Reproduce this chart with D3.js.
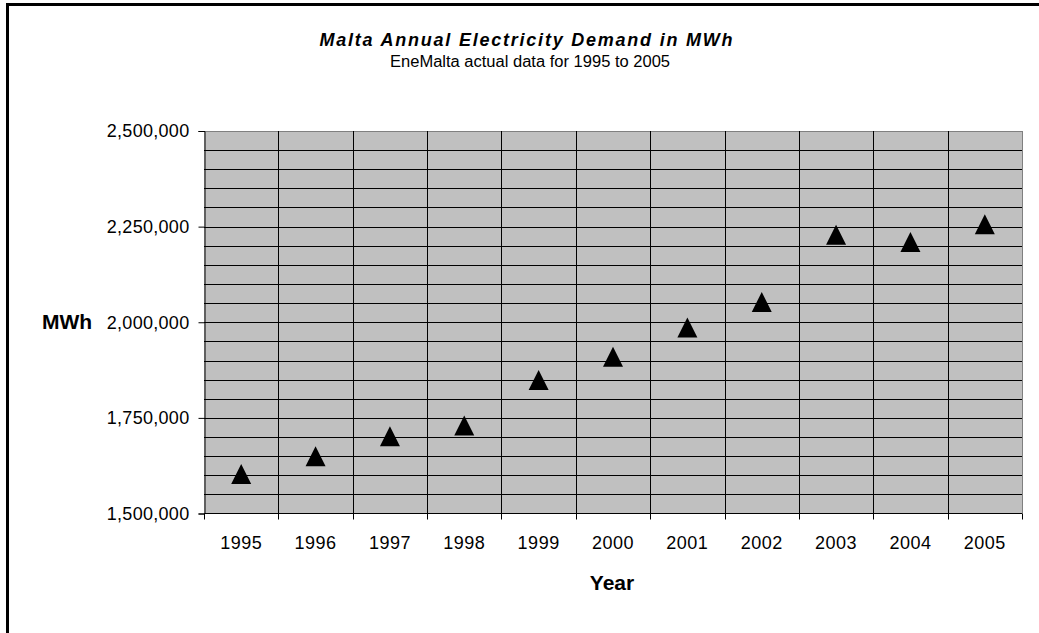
<!DOCTYPE html>
<html>
<head>
<meta charset="utf-8">
<script src="https://cdn.jsdelivr.net/npm/d3@7"></script>
<style>
  body { margin: 0; background: #fff; }
  text { font-family: "Liberation Sans", Arial, sans-serif; fill: #000; }
</style>
</head>
<body>
<script>
// chart data
var years = ["1995", "1996", "1997", "1998", "1999", "2000", "2001", "2002", "2003", "2004", "2005"];
var demand = [1603000, 1650000, 1702000, 1730000, 1849000, 1910000, 1986000, 2053000, 2229000, 2210000, 2256000];
var yTicks = [1500000, 1750000, 2000000, 2250000, 2500000];

var margin = {top: 131, right: 17, bottom: 120, left: 204};
var W = 1039, H = 633;
var width = W - margin.left - margin.right, height = 513.5 - margin.top;

var svg = d3.select("body").append("svg")
    .attr("width", W)
    .attr("height", H);

// outer frame, cut off on the right and bottom
svg.append("rect")
    .attr("x", 7.5).attr("y", 4.5)
    .attr("width", 1200).attr("height", 800)
    .attr("fill", "none")
    .attr("stroke", "#000")
    .attr("stroke-width", 3);

svg.append("text")
    .attr("x", 526).attr("y", 46)
    .attr("text-anchor", "middle")
    .attr("font-size", "18px")
    .attr("font-weight", "bold")
    .attr("font-style", "italic")
    .attr("textLength", 413)
    .attr("lengthAdjust", "spacing")
    .text("Malta Annual Electricity Demand in MWh");

svg.append("text")
    .attr("x", 530).attr("y", 67)
    .attr("text-anchor", "middle")
    .attr("font-size", "16px")
    .attr("textLength", 280)
    .attr("lengthAdjust", "spacingAndGlyphs")
    .text("EneMalta actual data for 1995 to 2005");

var g = svg.append("g")
    .attr("transform", "translate(" + margin.left + "," + margin.top + ")");

var x = d3.scaleBand().domain(years).range([0, width]);
var y = d3.scaleLinear().domain([1500000, 2500000]).range([height, 0]);

g.append("rect")
    .attr("width", width).attr("height", height)
    .attr("fill", "#c0c0c0");

// horizontal gridlines every 50,000
g.append("g").selectAll("line")
    .data(d3.range(1550000, 2500001, 50000))
    .join("line")
    .attr("x1", 0).attr("x2", width)
    .attr("y1", d => Math.round(y(d)) + 0.5)
    .attr("y2", d => Math.round(y(d)) + 0.5)
    .attr("stroke", d => d === 2500000 ? "#808080" : "#000")
    .attr("stroke-width", 1);

// vertical gridlines at category edges
var edges = years.map(d => x(d)).concat([width]);
g.append("g").selectAll("line")
    .data(edges.slice(1))
    .join("line")
    .attr("x1", d => Math.round(d) + 0.5).attr("x2", d => Math.round(d) + 0.5)
    .attr("y1", 0).attr("y2", height)
    .attr("stroke", (d, i) => i === edges.length - 2 ? "#808080" : "#000");

// y axis
var yAxis = g.append("g")
    .attr("transform", "translate(0.5,0)")
    .call(d3.axisLeft(y).tickValues(yTicks).tickSize(6).tickPadding(9)
        .tickFormat(d3.format(",")));
yAxis.selectAll("text")
    .attr("font-size", "18px")
    .attr("letter-spacing", "0.3px")
    .attr("font-family", "Liberation Sans, Arial, sans-serif");
yAxis.select(".domain").attr("stroke", "#000");

// x axis: ticks at category edges, labels centered in bands
var xg = g.append("g").attr("transform", "translate(0," + height + ")");
xg.append("line")
    .attr("x1", 0).attr("x2", width)
    .attr("stroke", "#000");
xg.selectAll(".tk")
    .data(edges)
    .join("line")
    .attr("class", "tk")
    .attr("x1", d => Math.round(d) + 0.5).attr("x2", d => Math.round(d) + 0.5)
    .attr("y1", 0).attr("y2", 6)
    .attr("stroke", "#000");
xg.selectAll(".lb")
    .data(years)
    .join("text")
    .attr("class", "lb")
    .attr("x", d => x(d) + x.bandwidth() / 2)
    .attr("y", 35)
    .attr("text-anchor", "middle")
    .attr("font-size", "18px")
    .attr("letter-spacing", "0.5px")
    .text(d => d);

// markers
var tri = "M0,-10L10,10L-10,10Z";
g.append("g").selectAll("path")
    .data(years)
    .join("path")
    .attr("transform", (d, i) => "translate(" + (x(d) + x.bandwidth() / 2) + "," + y(demand[i]) + ")")
    .attr("d", tri)
    .attr("fill", "#000");

// axis titles
svg.append("text")
    .attr("x", 42).attr("y", 329)
    .attr("font-size", "21px")
    .attr("font-weight", "bold")
    .text("MWh");

svg.append("text")
    .attr("x", 612).attr("y", 590)
    .attr("text-anchor", "middle")
    .attr("font-size", "21px")
    .attr("font-weight", "bold")
    .text("Year");
</script>
</body>
</html>
